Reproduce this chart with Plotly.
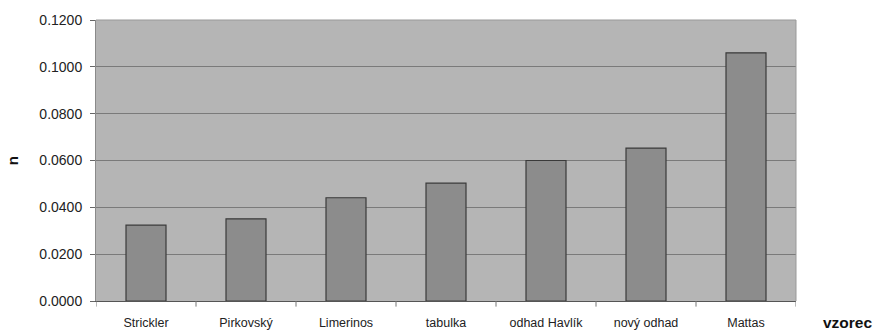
import plotly.graph_objects as go

# Manning roughness coefficient n estimated by several formulas
methods = ["Strickler", "Pirkovský", "Limerinos", "tabulka",
           "odhad Havlík", "nový odhad", "Mattas"]
n_values = [0.0324, 0.0351, 0.0441, 0.0503, 0.0600, 0.0653, 0.1060]
y_ticks = [0.0, 0.02, 0.04, 0.06, 0.08, 0.10, 0.12]
y_tick_labels = ["0.0000", "0.0200", "0.0400", "0.0600", "0.0800", "0.1000", "0.1200"]

fig = go.Figure()
fig.add_trace(go.Bar(
    x=list(range(len(methods))),
    y=n_values,
    width=0.4,
    marker=dict(color="#8c8c8c", line=dict(color="#3a3a3a", width=1.2)),
    hoverinfo="skip",
))

fig.update_layout(
    width=875, height=330,
    margin=dict(l=96, r=79, t=20, b=29),
    paper_bgcolor="white",
    plot_bgcolor="#b5b5b5",
    showlegend=False,
    font=dict(family="Liberation Sans, Arial, sans-serif", color="#222"),
    xaxis=dict(
        range=[-0.5, len(methods) - 0.5],
        tickmode="array",
        tickvals=list(range(len(methods))),
        ticktext=methods,
        ticks="",
        ticklabelstandoff=10,
        tickfont=dict(size=12.5, color="#222"),
        showgrid=False,
        showline=True, linecolor="#555", linewidth=1,
        zeroline=False,
        automargin=False,
        fixedrange=True,
    ),
    yaxis=dict(
        range=[0, 0.12],
        tickmode="array",
        tickvals=y_ticks,
        ticktext=y_tick_labels,
        ticks="outside", ticklen=5, tickcolor="#666",
        ticklabelstandoff=5,
        tickfont=dict(size=14, color="#222"),
        showgrid=True, gridcolor="#7a7a7a", gridwidth=1,
        showline=True, linecolor="#8a8a8a", linewidth=1,
        zeroline=False,
        automargin=False,
        fixedrange=True,
    ),
)

# Category separator ticks below the x axis
for k in range(len(methods) + 1):
    fig.add_shape(type="line", xref="x", yref="paper",
                  x0=k - 0.5, x1=k - 0.5, y0=0, y1=-0.02,
                  line=dict(color="#777", width=1))

# Light frame on top and right of the plot area
fig.add_shape(type="line", xref="paper", yref="paper", x0=0, x1=1, y0=1, y1=1,
              line=dict(color="#999", width=1))
fig.add_shape(type="line", xref="paper", yref="paper", x0=1, x1=1, y0=0, y1=1,
              line=dict(color="#999", width=1))

# Axis titles
fig.add_annotation(text="<b>n</b>", xref="paper", yref="paper",
                   x=-0.119, y=0.5, showarrow=False, textangle=-90,
                   font=dict(size=15, color="#111"), xanchor="center", yanchor="middle")
fig.add_annotation(text="<b>vzorec</b>", xref="paper", yref="paper",
                   x=1.074, y=-0.075, showarrow=False,
                   font=dict(size=15.5, color="#111"), xanchor="center", yanchor="middle")

fig.write_html("out.html")
